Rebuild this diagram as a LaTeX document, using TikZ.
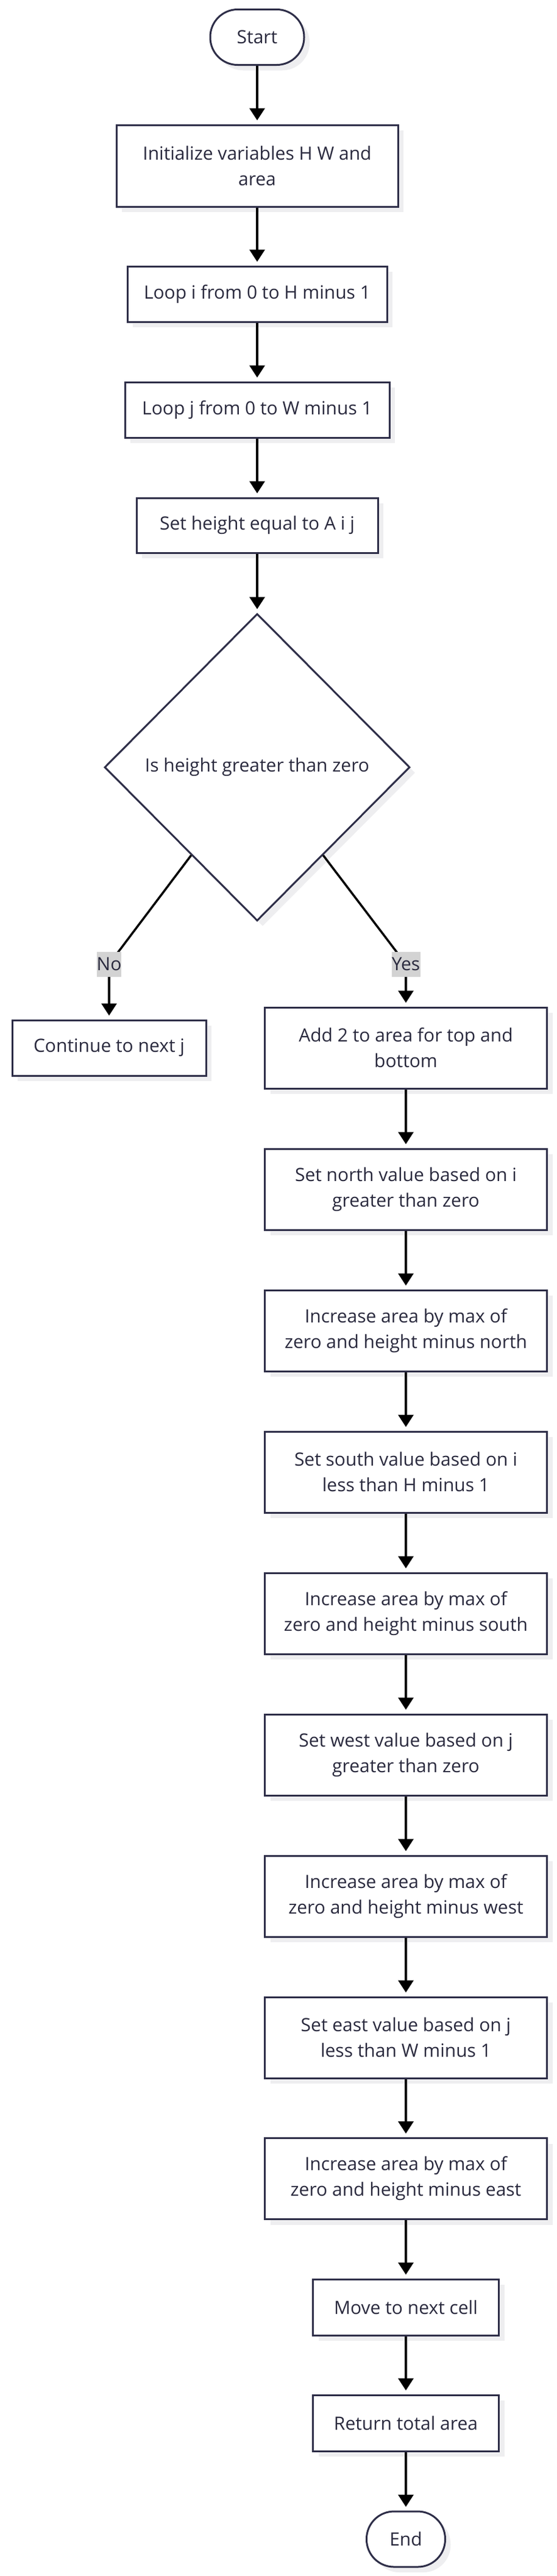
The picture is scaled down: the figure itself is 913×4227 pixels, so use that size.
\documentclass[tikz,border=0pt]{standalone}
\usepackage{fontspec}
\setmainfont{Open Sans}
\usetikzlibrary{arrows.meta,shapes.geometric,calc}
\definecolor{bordc}{RGB}{46,46,72}
\definecolor{textc}{RGB}{42,42,62}
\definecolor{shadc}{RGB}{238,238,240}
\definecolor{lblc}{RGB}{211,211,211}
\begin{document}
\begin{tikzpicture}[x=1pt,y=-1pt,
  base/.style={draw=bordc, line width=3pt, fill=white, text=textc, align=center, inner sep=0pt,
    font=\fontsize{30}{42}\selectfont,
    preaction={fill=shadc, transform canvas={shift={(9pt,-9pt)}}}},
  procbox/.style={base, rectangle},
  termbox/.style={base, rectangle, rounded corners=45pt},
  decbox/.style={base, diamond},
  conn/.style={line width=3.5pt, black, -{Triangle[length=20pt,width=25pt]}, shorten >=6pt},
  plainconn/.style={line width=3.5pt, black},
  lbl/.style={fill=lblc, text=textc, inner sep=0pt, minimum width=36pt, minimum height=41pt, font=\fontsize{30}{42}\selectfont}
]
\useasboundingbox (0,0) rectangle (913,4227);
\fill[white] (0,0) rectangle (913,4227);

\node[termbox, minimum width=154pt, minimum height=91pt] (start) at (422,61) {Start};
\node[procbox, minimum width=462pt, minimum height=134pt] (init) at (422,272) {Initialize variables H W and\\area};
\node[procbox, minimum width=426pt, minimum height=91pt] (loopi) at (422,482.5) {Loop i from 0 to H minus 1};
\node[procbox, minimum width=434pt, minimum height=91pt] (loopj) at (422,672.5) {Loop j from 0 to W minus 1};
\node[procbox, minimum width=396pt, minimum height=90pt] (seth) at (422,862) {Set height equal to A i j};
\node[decbox, minimum width=501pt, minimum height=504pt] (dia) at (422,1259) {Is height greater than zero};
\node[procbox, minimum width=318pt, minimum height=91pt] (cont) at (179,1719.5) {Continue to next j};
\node[procbox, minimum width=463pt, minimum height=133pt] (add2) at (666,1719.5) {Add 2 to area for top and\\bottom};
\node[procbox, minimum width=463pt, minimum height=133pt] (north) at (666,1951.5) {Set north value based on i\\greater than zero};
\node[procbox, minimum width=463pt, minimum height=133pt] (incn) at (666,2183.5) {Increase area by max of\\zero and height minus north};
\node[procbox, minimum width=463pt, minimum height=133pt] (south) at (666,2415.5) {Set south value based on i\\less than H minus 1};
\node[procbox, minimum width=463pt, minimum height=133pt] (incs) at (666,2647.5) {Increase area by max of\\zero and height minus south};
\node[procbox, minimum width=463pt, minimum height=133pt] (west) at (666,2879.5) {Set west value based on j\\greater than zero};
\node[procbox, minimum width=463pt, minimum height=133pt] (incw) at (666,3111.5) {Increase area by max of\\zero and height minus west};
\node[procbox, minimum width=463pt, minimum height=133pt] (east) at (666,3343.5) {Set east value based on j\\less than W minus 1};
\node[procbox, minimum width=463pt, minimum height=133pt] (ince) at (666,3575) {Increase area by max of\\zero and height minus east};
\node[procbox, minimum width=305pt, minimum height=92pt] (move) at (666,3786) {Move to next cell};
\node[procbox, minimum width=305pt, minimum height=92pt] (ret) at (666,3976) {Return total area};
\node[termbox, minimum width=129pt, minimum height=91pt] (end) at (666,4166.5) {End};

\draw[conn] (start) -- (init);
\draw[conn] (init) -- (loopi);
\draw[conn] (loopi) -- (loopj);
\draw[conn] (loopj) -- (seth);
\draw[conn] (seth) -- (dia);

\coordinate (nostart) at ($(dia.west)!0.57!(dia.south)$);
\coordinate (yesstart) at ($(dia.east)!0.57!(dia.south)$);
\coordinate (nopt) at (179,1582);
\coordinate (yespt) at (666,1582);
\draw[plainconn] (nostart) -- (nopt);
\draw[conn] (nopt) -- (cont.north);
\draw[plainconn] (yesstart) -- (yespt);
\draw[conn] (yespt) -- (add2.north);
\node[lbl] (nolbl) at (nopt) {No};
\node[lbl, minimum width=47pt] (yeslbl) at (yespt) {Yes};

\draw[conn] (add2) -- (north);
\draw[conn] (north) -- (incn);
\draw[conn] (incn) -- (south);
\draw[conn] (south) -- (incs);
\draw[conn] (incs) -- (west);
\draw[conn] (west) -- (incw);
\draw[conn] (incw) -- (east);
\draw[conn] (east) -- (ince);
\draw[conn] (ince) -- (move);
\draw[conn] (move) -- (ret);
\draw[conn] (ret) -- (end);
\end{tikzpicture}
\end{document}
